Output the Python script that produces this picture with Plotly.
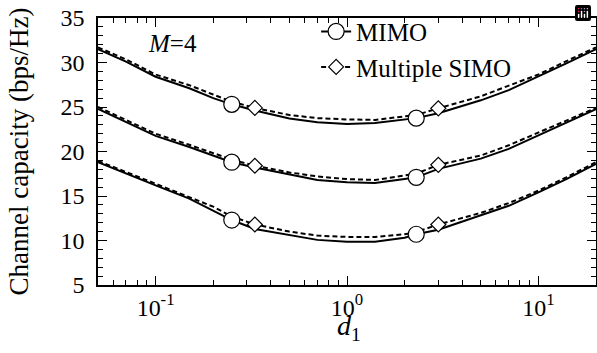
import plotly.graph_objects as go

# ---- data ----
d = [0.05, 0.07, 0.1, 0.15, 0.2, 0.25, 0.33, 0.5, 0.7, 1.0, 1.4, 2.0, 2.3, 3.0, 5.0, 7.0, 10, 14, 20]

mimo_top = [31.5, 30.1, 28.4, 27.1, 26.0, 25.3, 24.6, 23.7, 23.3, 23.1, 23.2, 23.6, 23.75, 24.3, 25.75, 26.9, 28.4, 29.9, 31.5]
simo_top = [31.7, 30.35, 28.65, 27.45, 26.4, 25.6, 24.9, 24.1, 23.75, 23.6, 23.55, 23.9, 24.1, 24.85, 26.2, 27.4, 28.65, 30.15, 31.7]
mimo_mid = [24.8, 23.3, 21.75, 20.5, 19.5, 18.8, 18.2, 17.4, 16.8, 16.55, 16.45, 16.9, 17.1, 18.05, 19.2, 20.3, 21.8, 23.3, 24.75]
simo_mid = [25.0, 23.5, 22.0, 20.75, 19.8, 19.1, 18.4, 17.65, 17.2, 16.9, 16.8, 17.3, 17.5, 18.5, 19.55, 20.7, 22.1, 23.5, 24.9]
mimo_bot = [18.8, 17.5, 16.2, 14.7, 13.4, 12.3, 11.3, 10.6, 10.07, 9.85, 9.85, 10.3, 10.7, 11.2, 12.85, 13.9, 15.4, 16.9, 18.6]
simo_bot = [18.95, 17.7, 16.4, 14.95, 13.8, 12.7, 11.8, 11.0, 10.55, 10.4, 10.4, 10.7, 10.95, 11.8, 13.1, 14.2, 15.6, 17.1, 18.8]

mimo_marker_idx = [5, 12]
simo_marker_idx = [6, 13]

x_tickvals = [0.1, 1, 10]
x_ticktext = ["10<sup>-1</sup>", "10<sup>0</sup>", "10<sup>1</sup>"]
y_tickvals = [5, 10, 15, 20, 25, 30, 35]

FONT = "Liberation Serif"

fig = go.Figure()

line_mimo = dict(color="black", width=2)
line_simo = dict(color="black", width=2, dash="5px,3px")
mk_circle = dict(symbol="circle", size=16, color="white", line=dict(color="black", width=1.2))
mk_diamond = dict(symbol="diamond", size=11.5, color="white", line=dict(color="black", width=1.2))

for ym, ys in [(mimo_top, simo_top), (mimo_mid, simo_mid), (mimo_bot, simo_bot)]:
    fig.add_trace(go.Scatter(x=d, y=ys, mode="lines", line=line_simo, showlegend=False))
    fig.add_trace(go.Scatter(x=d, y=ym, mode="lines", line=line_mimo, showlegend=False))
    fig.add_trace(go.Scatter(x=[d[i] for i in simo_marker_idx], y=[ys[i] for i in simo_marker_idx],
                             mode="markers", marker=mk_diamond, showlegend=False))
    fig.add_trace(go.Scatter(x=[d[i] for i in mimo_marker_idx], y=[ym[i] for i in mimo_marker_idx],
                             mode="markers", marker=mk_circle, showlegend=False))

# legend entries
fig.add_trace(go.Scatter(x=[None], y=[None], mode="lines+markers", line=line_mimo, marker=mk_circle, name="MIMO"))
fig.add_trace(go.Scatter(x=[None], y=[None], mode="lines+markers", line=line_simo, marker=mk_diamond, name="Multiple SIMO"))

axis_common = dict(showline=True, linecolor="black", linewidth=1.5, mirror="allticks",
                   ticks="inside", tickcolor="black", tickwidth=1.2, showgrid=False, zeroline=False,
                   automargin=False,
                   tickfont=dict(family=FONT, size=24, color="black"))

fig.update_xaxes(type="log", range=[-1.30103, 1.30103], tickvals=x_tickvals, ticktext=x_ticktext,
                 ticklen=9, ticklabelstandoff=0,
                 minor=dict(ticks="inside", ticklen=5, tickcolor="black", tickwidth=1.2, dtick="D1", showgrid=False),
                 **axis_common)
fig.update_yaxes(range=[5, 35], tickvals=y_tickvals, ticklen=9, ticklabelstandoff=7,
                 minor=dict(ticks="inside", ticklen=5, tickcolor="black", tickwidth=1.2, dtick=1, showgrid=False),
                 title=dict(text="Channel capacity (bps/Hz)", font=dict(family=FONT, size=27, color="black"), standoff=24),
                 **axis_common)

fig.add_annotation(xref="paper", yref="paper", x=0.505, y=-0.16, xanchor="center", yanchor="middle",
                   text="<i>d</i><sub>1</sub>", showarrow=False,
                   font=dict(family=FONT, size=28, color="black"))

fig.add_annotation(xref="paper", yref="paper", x=0.149, y=0.906, xanchor="center", yanchor="middle",
                   text="<i>M</i>=4", showarrow=False,
                   font=dict(family=FONT, size=25, color="black"))

fig.update_layout(width=597, height=353, margin=dict(l=98, r=1, t=18, b=68, autoexpand=False),
                  paper_bgcolor="white", plot_bgcolor="white",
                  modebar=dict(bgcolor="rgba(0,0,0,0)", color="rgba(0,0,0,0)", activecolor="rgba(0,0,0,0)"),
                  legend=dict(x=0.438, y=1.035, xanchor="left", yanchor="top", bgcolor="rgba(0,0,0,0)",
                              font=dict(family=FONT, size=25, color="black"), tracegroupgap=0, itemwidth=30),
                  font=dict(family=FONT, color="black"))

fig.write_html("out.html", post_script="document.body.style.margin='0px';")
